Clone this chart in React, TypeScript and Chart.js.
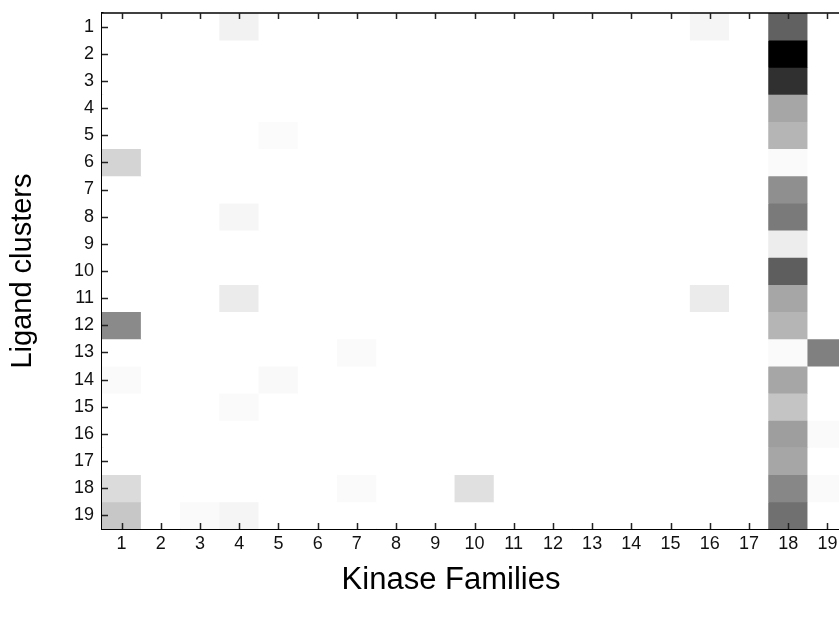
import React, { useEffect, useRef } from 'react';
import { Chart, registerables } from 'chart.js';

Chart.register(...registerables);

const FONT = '"Liberation Sans", Arial, Helvetica, sans-serif';

// Axis categories
const kinaseFamilies = ['1', '2', '3', '4', '5', '6', '7', '8', '9', '10', '11', '12', '13', '14', '15', '16', '17', '18', '19'];
const ligandClusters = [1, 2, 3, 4, 5, 6, 7, 8, 9, 10, 11, 12, 13, 14, 15, 16, 17, 18, 19];
const xTitle = 'Kinase Families';
const yTitle = 'Ligand clusters';

// Darkness (0 = white, 1 = black) per ligand cluster 1..19, for each kinase family with signal
const family1 = [0, 0, 0, 0, 0, 0.17, 0, 0, 0, 0, 0, 0.46, 0, 0.02, 0, 0, 0, 0.14, 0.22];
const family3 = [0, 0, 0, 0, 0, 0, 0, 0, 0, 0, 0, 0, 0, 0, 0, 0, 0, 0, 0.02];
const family4 = [0.05, 0, 0, 0, 0, 0, 0, 0.035, 0, 0, 0.08, 0, 0, 0, 0.02, 0, 0, 0, 0.04];
const family5 = [0, 0, 0, 0, 0.015, 0, 0, 0, 0, 0, 0, 0, 0, 0.025, 0, 0, 0, 0, 0];
const family7 = [0, 0, 0, 0, 0, 0, 0, 0, 0, 0, 0, 0, 0.02, 0, 0, 0, 0, 0.02, 0];
const family10 = [0, 0, 0, 0, 0, 0, 0, 0, 0, 0, 0, 0, 0, 0, 0, 0, 0, 0.12, 0];
const family16 = [0.04, 0, 0, 0, 0, 0, 0, 0, 0, 0, 0.08, 0, 0, 0, 0, 0, 0, 0, 0];
const family18 = [0.62, 1.0, 0.81, 0.35, 0.29, 0.02, 0.44, 0.52, 0.07, 0.63, 0.35, 0.29, 0.02, 0.35, 0.23, 0.38, 0.35, 0.47, 0.56];
const family19 = [0, 0, 0, 0, 0, 0, 0, 0, 0, 0, 0, 0, 0.5, 0, 0, 0.02, 0, 0.02, 0];

const familyColumns: Record<string, number[]> = {
  '1': family1,
  '3': family3,
  '4': family4,
  '5': family5,
  '7': family7,
  '10': family10,
  '16': family16,
  '18': family18,
  '19': family19,
};

const grayFor = (v: number) => {
  const g = Math.round(255 * (1 - v));
  return `rgb(${g},${g},${g})`;
};

// Tick marks drawn inside the frame, the top frame line and the x-axis caption
const innerTicks = {
  id: 'innerTicks',
  afterDraw(chart: any) {
    const { ctx, chartArea, scales } = chart;
    const { left, right, top, bottom } = chartArea;
    const x = scales.x;
    const y = scales.y;
    const len = 6;
    ctx.save();
    ctx.strokeStyle = '#000';
    ctx.lineWidth = 1.5;
    ctx.beginPath();
    ctx.moveTo(left, top);
    ctx.lineTo(right, top);
    ctx.stroke();
    ctx.strokeStyle = '#222';
    ctx.lineWidth = 1.5;
    ctx.beginPath();
    kinaseFamilies.forEach((_, i) => {
      const px = Math.round(x.getPixelForValue(i)) + 0.5;
      ctx.moveTo(px, bottom);
      ctx.lineTo(px, bottom - len);
      ctx.moveTo(px, top);
      ctx.lineTo(px, top + len);
    });
    ligandClusters.forEach((v) => {
      const py = Math.round(y.getPixelForValue(v)) + 0.5;
      ctx.moveTo(left, py);
      ctx.lineTo(left + len, py);
    });
    ctx.stroke();

    ctx.fillStyle = '#000';
    ctx.font = `31px ${FONT}`;
    ctx.textAlign = 'center';
    ctx.textBaseline = 'alphabetic';
    ctx.fillText(xTitle, 451, 589);
    ctx.restore();
  },
};

export default function App() {
  const canvasRef = useRef<HTMLCanvasElement | null>(null);

  useEffect(() => {
    if (!canvasRef.current) return;

    const datasets = ligandClusters.map((cluster, i) => ({
      label: `Cluster ${cluster}`,
      data: kinaseFamilies.map(() => [cluster - 0.5, cluster + 0.5]),
      backgroundColor: kinaseFamilies.map((f) => grayFor(familyColumns[f] ? familyColumns[f][i] : 0)),
      borderWidth: 0,
      grouped: false,
      barPercentage: 1,
      categoryPercentage: 1,
    }));

    const chart = new Chart(canvasRef.current, {
      type: 'bar',
      data: { labels: kinaseFamilies, datasets: datasets as any },
      plugins: [innerTicks],
      options: {
        animation: false,
        responsive: false,
        maintainAspectRatio: false,
        devicePixelRatio: 1,
        layout: { padding: { top: 13, right: 23, left: 0, bottom: 0 } },
        plugins: {
          legend: { display: false },
          tooltip: { enabled: false },
        },
        scales: {
          x: {
            type: 'category',
            offset: true,
            grid: { display: false, drawTicks: false },
            border: { display: true, color: '#000', width: 2 },
            ticks: {
              color: '#111',
              font: { family: FONT, size: 18 },
              padding: 4,
              maxRotation: 0,
              autoSkip: false,
            },
            title: { display: false },
            afterFit: (s: any) => {
              s.height = 89;
              s.paddingLeft = 0;
              s.paddingRight = 0;
            },
          },
          y: {
            type: 'linear',
            min: 0.5,
            max: 19.5,
            reverse: true,
            afterBuildTicks: (s: any) => {
              s.ticks = ligandClusters.map((v) => ({ value: v }));
            },
            grid: { display: false, drawTicks: false },
            border: { display: true, color: '#000', width: 2.5 },
            ticks: {
              color: '#111',
              font: { family: FONT, size: 18 },
              padding: 8,
              callback: (v: any) => String(v),
            },
            title: {
              display: true,
              text: yTitle,
              color: '#000',
              font: { family: FONT, size: 29, lineHeight: 1 },
              padding: { top: 8, bottom: 0 },
            },
            afterFit: (s: any) => {
              s.width = 102;
              s.paddingTop = 0;
              s.paddingBottom = 0;
            },
          },
        },
      } as any,
    });

    return () => chart.destroy();
  }, []);

  return (
    <div
      style={{
        position: 'fixed',
        left: 0,
        top: 0,
        width: 839,
        height: 618,
        overflow: 'hidden',
        background: '#fff',
      }}
    >
      <canvas ref={canvasRef} width={870} height={618} style={{ display: 'block' }} />
    </div>
  );
}
